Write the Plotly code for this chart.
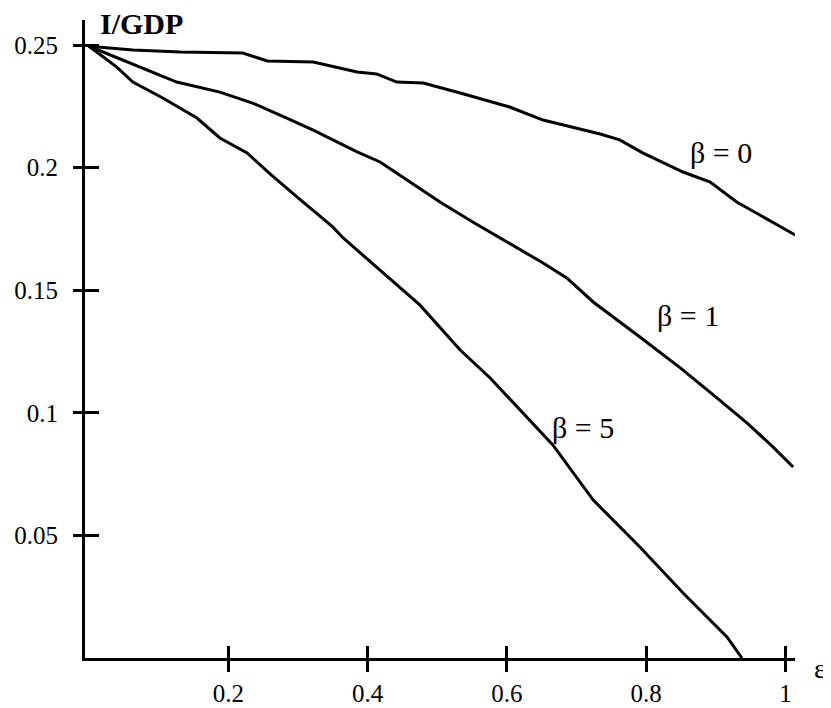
import plotly.graph_objects as go

# ---- data ----
eps_b0 = [0.0, 0.063, 0.131, 0.221, 0.256, 0.322, 0.385, 0.413, 0.442, 0.480, 0.533, 0.571,
          0.604, 0.652, 0.734, 0.762, 0.795, 0.853, 0.892, 0.930, 1.014]
gdp_b0 = [0.2495, 0.2480, 0.2471, 0.2467, 0.2435, 0.2431, 0.2390, 0.2382, 0.2349, 0.2345, 0.2304, 0.2272,
          0.2247, 0.2194, 0.2137, 0.2113, 0.2060, 0.1982, 0.1941, 0.1860, 0.1725]

eps_b1 = [0.0, 0.059, 0.126, 0.188, 0.235, 0.284, 0.322, 0.385, 0.418, 0.461, 0.504, 0.551,
          0.600, 0.652, 0.686, 0.724, 0.791, 0.849, 0.902, 0.945, 0.982, 1.011]
gdp_b1 = [0.2495, 0.2427, 0.2349, 0.2308, 0.2263, 0.2202, 0.2153, 0.2064, 0.2023, 0.1941, 0.1860, 0.1778,
          0.1697, 0.1611, 0.1550, 0.1452, 0.1309, 0.1183, 0.1060, 0.0958, 0.0861, 0.0779]

eps_b5 = [0.0, 0.040, 0.063, 0.106, 0.155, 0.188, 0.227, 0.260, 0.299, 0.350, 0.365, 0.414, 0.475,
          0.533, 0.576, 0.666, 0.724, 0.791, 0.853, 0.916, 0.9375]
gdp_b5 = [0.2495, 0.2410, 0.2349, 0.2284, 0.2202, 0.2121, 0.2060, 0.1974, 0.1880, 0.1758, 0.1713, 0.1591, 0.1440,
          0.1256, 0.1142, 0.0869, 0.0644, 0.0453, 0.0265, 0.0086, 0.0]

x_tickvals = [0.2, 0.4, 0.6, 0.8, 1.0]
x_ticktext = ["0.2", "0.4", "0.6", "0.8", "1"]
y_tickvals = [0.05, 0.10, 0.15, 0.20, 0.25]
y_ticktext = ["0.05", "0.1", "0.15", "0.2", "0.25"]

curve_labels = ["β = 0", "β = 1", "β = 5"]
label_x = [0.907, 0.860, 0.709]
label_y = [0.206, 0.1395, 0.0942]

FONT = "Liberation Serif, Times New Roman, serif"
XR = [-0.0057, 1.0137]
YR = [0.0, 0.2602]

fig = go.Figure()
for xs, ys in [(eps_b0, gdp_b0), (eps_b1, gdp_b1), (eps_b5, gdp_b5)]:
    fig.add_trace(go.Scatter(x=xs, y=ys, mode="lines",
                             line=dict(color="black", width=3),
                             showlegend=False, hoverinfo="skip"))
# dummy trace so the overlay axes (inner half of crossing ticks) are drawn
fig.add_trace(go.Scatter(x=[None], y=[None], xaxis="x2", yaxis="y2",
                         showlegend=False, hoverinfo="skip"))

for txt, lx, ly in zip(curve_labels, label_x, label_y):
    fig.add_annotation(x=lx, y=ly, text=txt, showarrow=False,
                       font=dict(family=FONT, size=30, color="black"),
                       xanchor="center", yanchor="middle")

fig.add_annotation(x=0.076, y=0.2586, text="<b>I/GDP</b>", showarrow=False,
                   font=dict(family=FONT, size=30, color="black"),
                   xanchor="center", yanchor="middle")
fig.add_annotation(x=1.035, y=-0.016, xref="paper", yref="paper", text="ε", showarrow=False,
                   font=dict(family=FONT, size=28, color="black"),
                   xanchor="center", yanchor="middle")

axis_common = dict(showgrid=False, zeroline=False, color="black", tickcolor="black",
                   tickwidth=2.8, automargin=False)

# the page body adds an 8px offset, so the figure is 8px smaller than the window
fig.update_layout(
    width=823, height=700,
    margin=dict(l=77, r=36, t=12, b=50),
    paper_bgcolor="white", plot_bgcolor="white",
    font=dict(family=FONT, size=25, color="black"),
    xaxis=dict(range=XR, tickvals=x_tickvals, ticktext=x_ticktext,
               ticks="outside", ticklen=11, showline=True, linewidth=3, linecolor="black",
               tickfont=dict(family=FONT, size=25, color="black"), **axis_common),
    yaxis=dict(range=YR, tickvals=y_tickvals, ticktext=y_ticktext,
               ticks="outside", ticklen=9, showline=True, linewidth=3, linecolor="black",
               ticklabelstandoff=10,
               tickfont=dict(family=FONT, size=25, color="black"), **axis_common),
    xaxis2=dict(range=XR, overlaying="x", anchor="y", side="bottom", tickvals=x_tickvals,
                showticklabels=False, ticks="inside", ticklen=12, showline=False, **axis_common),
    yaxis2=dict(range=YR, overlaying="y", anchor="x", side="left", tickvals=y_tickvals,
                showticklabels=False, ticks="inside", ticklen=14, showline=False, **axis_common),
)

fig.write_html("out.html")
